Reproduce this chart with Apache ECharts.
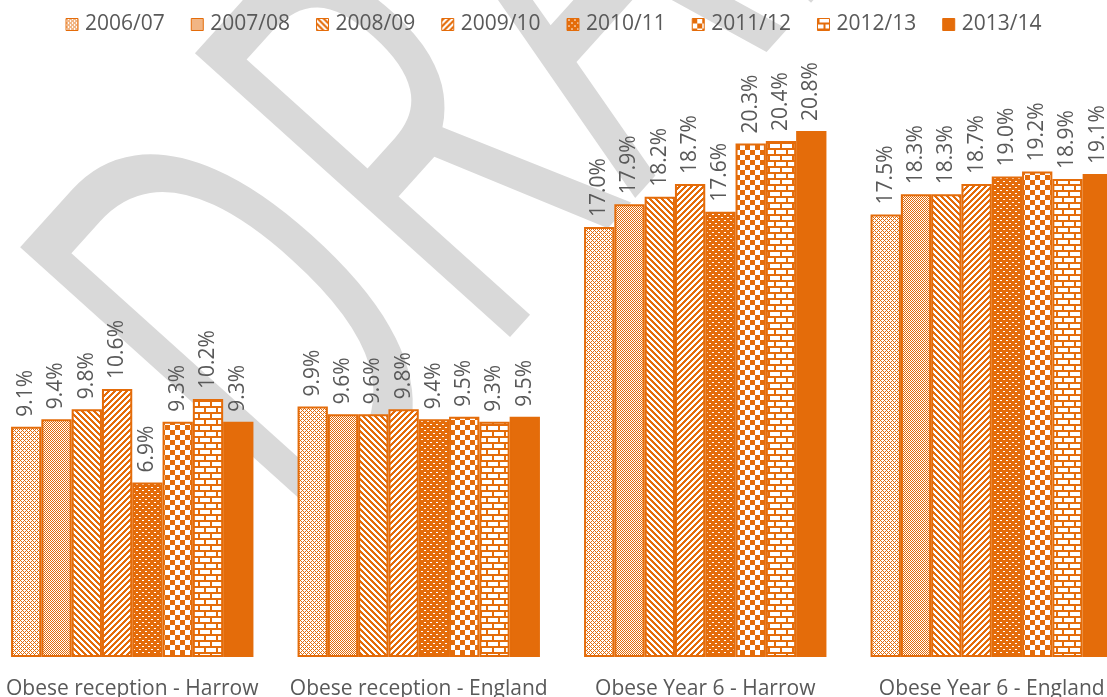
<!DOCTYPE html>
<html>
<head>
<meta charset="utf-8">
<script src="https://cdn.jsdelivr.net/npm/echarts@6/dist/echarts.min.js"></script>
<style>
  html, body { margin: 0; padding: 0; background: #ffffff; }
  #chart { width: 1107px; height: 697px; }
</style>
</head>
<body>
<div id="chart"></div>
<script>
// Childhood obesity prevalence (%), by measurement group and school year
const categories = ['Obese reception - Harrow', 'Obese reception - England', 'Obese Year 6 - Harrow', 'Obese Year 6 - England'];
const years = ['2006/07', '2007/08', '2008/09', '2009/10', '2010/11', '2011/12', '2012/13', '2013/14'];
const y200607 = [9.1, 9.9, 17.0, 17.5];
const y200708 = [9.4, 9.6, 17.9, 18.3];
const y200809 = [9.8, 9.6, 18.2, 18.3];
const y200910 = [10.6, 9.8, 18.7, 18.7];
const y201011 = [6.9, 9.4, 17.6, 19.0];
const y201112 = [9.3, 9.5, 20.3, 19.2];
const y201213 = [10.2, 9.3, 20.4, 18.9];
const y201314 = [9.3, 9.5, 20.8, 19.1];
const seriesValues = [y200607, y200708, y200809, y200910, y201011, y201112, y201213, y201314];

const ORANGE = '#E46C0A';
const TEXT = '#595959';
const FONT = '"Open Sans", sans-serif';

// Small tiles used as hatch fills, one per school year
function tile(w, h, paint) {
  const c = document.createElement('canvas');
  c.width = w; c.height = h;
  const ctx = c.getContext('2d');
  ctx.fillStyle = '#ffffff';
  ctx.fillRect(0, 0, w, h);
  ctx.fillStyle = ORANGE;
  paint(ctx, w, h);
  return { image: c, repeat: 'repeat' };
}
function eachPixel(ctx, w, h, test) {
  for (let y = 0; y < h; y++) for (let x = 0; x < w; x++) if (test(x, y)) ctx.fillRect(x, y, 1, 1);
}
const fills = [
  // diamond lattice
  tile(4, 4, (ctx, w, h) => eachPixel(ctx, w, h, (x, y) => (x + y) % 4 === 0 || (x - y + 4) % 4 === 0)),
  // 50% dither
  tile(2, 2, (ctx, w, h) => eachPixel(ctx, w, h, (x, y) => (x + y) % 2 === 0)),
  // downward diagonal
  tile(6, 6, (ctx, w, h) => eachPixel(ctx, w, h, (x, y) => ((x - y + 6) % 6) < 3)),
  // upward diagonal
  tile(6, 6, (ctx, w, h) => eachPixel(ctx, w, h, (x, y) => ((x + y) % 6) < 3)),
  // white dots on orange
  tile(6, 6, (ctx, w, h) => eachPixel(ctx, w, h, (x, y) =>
    !((y === 1 && (x === 1 || x === 2)) || (y === 4 && (x === 4 || x === 5))))),
  // large checkerboard
  tile(10, 10, (ctx) => { ctx.fillRect(0, 0, 5, 5); ctx.fillRect(5, 5, 5, 5); }),
  // horizontal brick
  tile(12, 12, (ctx) => {
    ctx.fillRect(0, 4, 12, 2); ctx.fillRect(0, 10, 12, 2);
    ctx.fillRect(0, 0, 2, 4); ctx.fillRect(6, 6, 2, 4);
  }),
  // solid
  ORANGE
];

const series = years.map((name, i) => ({
  name: name,
  type: 'bar',
  data: seriesValues[i],
  barGap: '0%',
  barCategoryGap: '15.4%',
  itemStyle: { color: fills[i], borderColor: ORANGE, borderWidth: 2 },
  label: {
    show: true,
    position: 'top',
    rotate: 90,
    align: 'left',
    verticalAlign: 'middle',
    distance: 10,
    color: TEXT,
    fontFamily: FONT,
    fontSize: 21,
    formatter: (p) => p.value.toFixed(1) + '%'
  }
}));

// "DRAFT" watermark, stretched tall and laid along the diagonal
const markAngle = 48 * Math.PI / 180;

const chart = echarts.init(document.getElementById('chart'), null, { renderer: 'canvas' });
chart.setOption({
  animation: false,
  backgroundColor: '#ffffff',
  textStyle: { fontFamily: FONT },
  legend: {
    top: 9,
    left: 'center',
    icon: 'rect',
    itemWidth: 12,
    itemHeight: 12,
    itemGap: 26,
    textStyle: { color: TEXT, fontSize: 21, fontFamily: FONT, padding: [0, 0, 0, 2] },
    itemStyle: { borderColor: ORANGE, borderWidth: 1 },
    data: years
  },
  grid: { left: -11, right: -28, top: 50, bottom: 40, outerBoundsMode: 'none', containLabel: false },
  xAxis: {
    type: 'category',
    data: categories,
    axisLine: { show: false },
    axisTick: { show: false },
    axisLabel: { color: TEXT, fontSize: 21, fontFamily: FONT, margin: 22, interval: 0 }
  },
  yAxis: {
    type: 'value',
    min: 0,
    max: 24,
    show: false
  },
  graphic: [{
    type: 'text',
    silent: true,
    z: -10,
    x: 186,
    y: 444,
    rotation: markAngle,
    scaleY: 1.65,
    style: {
      text: 'DRAFT',
      font: '360px "Open Sans"',
      fill: '#d9d9d9',
      align: 'left',
      verticalAlign: 'middle'
    }
  }],
  series: series
});
</script>
</body>
</html>
